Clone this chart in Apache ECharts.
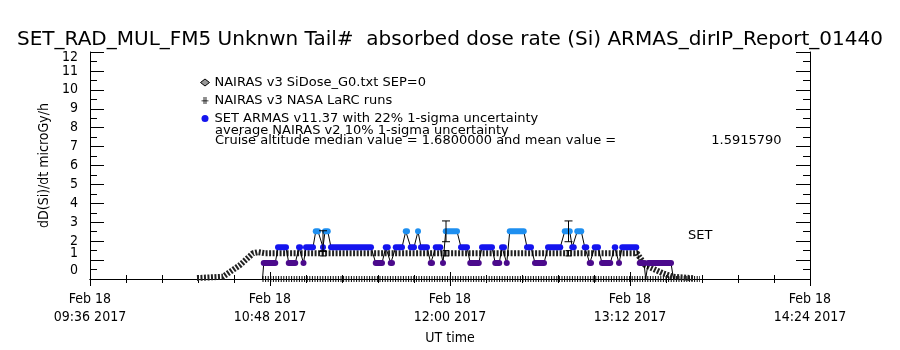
<!DOCTYPE html>
<html>
<head>
<meta charset="utf-8">
<script src="https://cdn.jsdelivr.net/npm/echarts@6/dist/echarts.min.js"></script>
<style>
  html, body { margin: 0; padding: 0; background: #fff; }
  #main { width: 900px; height: 350px; }
</style>
</head>
<body>
<div id="main"></div>
<script>
// 时间用当天的分钟数 (09:36 = 576)
var tickLabels = ['09:36', '10:48', '12:00', '13:12', '14:24']

// NAIRAS v3 SiDose_G0 曲线
var nairasTime = [618.8, 629.2, 636.0, 641.2, 643.2, 646.0, 794.8, 798.0, 805.2, 809.2, 817.2]
var nairasDose = [0.05, 0.12, 0.74, 1.36, 1.42, 1.36, 1.36, 0.74, 0.30, 0.12, 0.04]

// NASA LaRC runs (底部那一排)
var larcTime = [645.0, 820.0]
var larcDose = [0, 0]

// SET ARMAS 分段 (开始, 结束, 剂量率)
var armasStart = [645.0, 645.5, 651.2, 655.5, 659.6, 661.4, 662.4, 666.3, 669.2, 670.0, 672.4, 690.3, 694.3, 696.3, 698.3, 702.3,
  704.3, 707.2, 708.4, 712.3, 714.3, 717.2, 718.3, 724.4, 728.1, 732.8, 738.1, 740.8, 742.7, 743.9, 750.8, 754.0,
  759.2, 765.9, 768.9, 770.9, 773.9, 775.9, 777.9, 780.8, 785.9, 787.6, 788.9, 795.9, 798.3, 799.2, 809.4]
var armasEnd = [645.0, 650.1, 654.4, 658.1, 660.0, 661.4, 665.2, 667.2, 669.2, 671.1, 688.4, 692.8, 695.1, 696.8, 700.8, 702.8,
  705.6, 707.2, 710.8, 712.8, 716.1, 717.2, 722.8, 726.8, 731.5, 736.8, 739.7, 741.6, 742.7, 749.5, 752.4, 757.6,
  764.1, 767.9, 769.5, 772.5, 774.5, 776.4, 779.2, 784.1, 786.1, 787.6, 794.5, 797.6, 798.3, 808.4, 809.4]
var armasLevel = [0, 0.84, 1.68, 0.84, 1.68, 0.84, 1.68, 2.52, 1.68, 2.52, 1.68, 0.84, 1.68, 0.84, 1.68, 2.52,
  1.68, 2.52, 1.68, 0.84, 1.68, 0.84, 2.52, 1.68, 0.84, 1.68, 0.84, 1.68, 0.84, 2.52, 1.68, 0.84,
  1.68, 2.52, 1.68, 2.52, 1.68, 0.84, 1.68, 0.84, 1.68, 0.84, 1.68, 0.84, 0, 0.84, 0]

// 误差棒 (时间, 下限, 上限)
var armasErrTime = [669.2, 718.4, 767.4]
var armasErrLow = [1.45, 1.97, 1.97]
var armasErrHigh = [2.55, 3.07, 3.07]
var nairasErrTime = [669.2, 718.4, 767.4]
var nairasErrLow = [1.22, 1.22, 1.22]
var nairasErrHigh = [1.50, 1.50, 1.50]

var g0Name = 'NAIRAS v3 SiDose_G0.txt SEP=0'
var larcName = 'NAIRAS v3 NASA LaRC runs'
var armasName = 'SET ARMAS v11.37 with 22% 1-sigma uncertainty'

var font = 'DejaVu Sans'
var narrow = "'DejaVu Sans Condensed', 'Liberation Sans Narrow', 'DejaVu Sans'"

function zip(a, b) {
  var out = []
  for (var i = 0; i < a.length; i++) out.push([a[i], b[i]])
  return out
}

function levelColor(v) {
  if (v < 1.2) return '#4b0a8c'
  if (v < 2.1) return '#1414ee'
  return '#1e8ff0'
}

// 黑色连线：每段两端点
var armasLine = []
var armasSeg = []
for (var i = 0; i < armasStart.length; i++) {
  armasLine.push([armasStart[i], armasLevel[i]])
  if (armasEnd[i] !== armasStart[i]) armasLine.push([armasEnd[i], armasLevel[i]])
  if (armasLevel[i] > 0) armasSeg.push([armasStart[i], armasEnd[i], armasLevel[i]])
}

function errData(t, lo, hi) {
  var out = []
  for (var i = 0; i < t.length; i++) out.push([t[i], lo[i], hi[i]])
  return out
}

function errRender(cap) {
  return function (params, api) {
    var p1 = api.coord([api.value(0), api.value(1)])
    var p2 = api.coord([api.value(0), api.value(2)])
    var st = { stroke: '#000', lineWidth: 1 }
    return {
      type: 'group',
      children: [
        { type: 'line', shape: { x1: p1[0], y1: p1[1], x2: p2[0], y2: p2[1] }, style: st },
        { type: 'line', shape: { x1: p1[0] - cap, y1: p1[1], x2: p1[0] + cap, y2: p1[1] }, style: st },
        { type: 'line', shape: { x1: p2[0] - cap, y1: p2[1], x2: p2[0] + cap, y2: p2[1] }, style: st }
      ]
    }
  }
}

var myChart = echarts.init(document.getElementById('main'))

var option = {
  backgroundColor: '#fff',
  animation: false,
  title: {
    text: 'SET_RAD_MUL_FM5 Unknwn Tail#  absorbed dose rate (Si) ARMAS_dirIP_Report_01440',
    left: 'center',
    top: 25,
    textStyle: { fontFamily: font, fontSize: 20, fontWeight: 'normal', color: '#000' }
  },
  legend: {
    orient: 'vertical',
    left: 195,
    top: 71,
    itemWidth: 9,
    itemHeight: 7,
    itemGap: 5,
    selectedMode: false,
    textStyle: { fontFamily: font, fontSize: 13, color: '#000' },
    data: [
      { name: g0Name, icon: 'diamond', itemStyle: { color: '#999', borderColor: '#000', borderWidth: 1 } },
      { name: larcName, icon: 'path://M3,0h1.2v10h-1.2z M5.8,0h1.2v10h-1.2z M0,5h10v1.2h-10z', itemStyle: { color: '#000' } },
      { name: armasName, icon: 'circle', itemStyle: { color: '#1414ee' } }
    ]
  },
  grid: { left: 90, right: 90, top: 52, bottom: 71 },
  xAxis: [{
    type: 'value',
    min: 576,
    max: 864,
    interval: 72,
    name: 'UT time',
    nameLocation: 'middle',
    nameGap: 52,
    nameTextStyle: { fontFamily: narrow, fontSize: 14, color: '#000' },
    axisLine: { lineStyle: { color: '#000' } },
    axisTick: { inside: true, length: 7, lineStyle: { color: '#000' } },
    minorTick: { show: true, splitNumber: 5, length: 4, lineStyle: { color: '#000' } },
    splitLine: { show: false },
    axisLabel: {
      margin: 11,
      fontFamily: narrow,
      fontSize: 14,
      lineHeight: 18,
      color: '#000',
      formatter: function (v) {
        return 'Feb 18\n' + tickLabels[Math.round((v - 576) / 72)] + ' 2017'
      }
    }
  }, {
    type: 'value',
    position: 'top',
    min: 576,
    max: 864,
    interval: 72,
    axisLine: { lineStyle: { color: '#000' } },
    axisTick: { inside: true, length: 7, lineStyle: { color: '#000' } },
    minorTick: { show: true, splitNumber: 5, length: 4, lineStyle: { color: '#000' } },
    splitLine: { show: false },
    axisLabel: { show: false }
  }],
  yAxis: [{
    type: 'value',
    min: 0,
    max: 12,
    interval: 1,
    name: 'dD(Si)/dt microGy/h',
    nameLocation: 'middle',
    nameGap: 38,
    nameTextStyle: { fontFamily: narrow, fontSize: 14, color: '#000' },
    axisLine: { show: true, lineStyle: { color: '#000' } },
    axisTick: { inside: true, length: 14, lineStyle: { color: '#000' } },
    minorTick: { show: true, splitNumber: 2, length: 7, lineStyle: { color: '#000' } },
    splitLine: { show: false },
    axisLabel: {
      margin: 12,
      fontFamily: narrow,
      fontSize: 14,
      color: '#000',
      formatter: function (v) {
        if (v === 0) return '{a|0}'
        if (v === 1) return '{b|1}'
        if (v === 12) return '{c|12}'
        return v
      },
      rich: {
        a: { fontFamily: narrow, fontSize: 14, color: '#000', padding: [0, 0, 18, 0] },
        b: { fontFamily: narrow, fontSize: 14, color: '#000', padding: [0, 0, 14, 0] },
        c: { fontFamily: narrow, fontSize: 14, color: '#000', padding: [10, 0, 0, 0] }
      }
    }
  }, {
    type: 'value',
    position: 'right',
    min: 0,
    max: 12,
    interval: 1,
    axisLine: { show: true, lineStyle: { color: '#000' } },
    axisTick: { inside: true, length: 14, lineStyle: { color: '#000' } },
    minorTick: { show: true, splitNumber: 2, length: 7, lineStyle: { color: '#000' } },
    splitLine: { show: false },
    axisLabel: { show: false }
  }],
  graphic: [
    {
      type: 'text', left: 215, top: 124,
      style: { text: 'average NAIRAS v2 10% 1-sigma uncertainty', font: '13px ' + font, fill: '#000' }
    },
    {
      type: 'text', left: 215, top: 134,
      style: { text: 'Cruise altitude median value = 1.6800000 and mean value =                       1.5915790', font: '13px ' + font, fill: '#000' }
    },
    {
      type: 'text', left: 688, top: 229,
      style: { text: 'SET', font: '13px ' + font, fill: '#000' }
    }
  ],
  series: [
    {
      name: larcName,
      type: 'line',
      data: zip(larcTime, larcDose),
      showSymbol: false,
      itemStyle: { color: '#000' },
      lineStyle: { color: '#000', width: 6, type: [1, 1.6] },
      z: 1
    },
    {
      name: g0Name,
      type: 'line',
      data: zip(nairasTime, nairasDose),
      showSymbol: false,
      itemStyle: { color: '#999' },
      lineStyle: { color: '#222', width: 6, type: [2, 1.5] },
      z: 2
    },
    {
      name: 'armas-line',
      type: 'line',
      data: armasLine,
      showSymbol: false,
      lineStyle: { color: '#000', width: 1 },
      z: 3
    },
    {
      name: armasName,
      type: 'custom',
      data: armasSeg,
      itemStyle: { color: '#1414ee' },
      renderItem: function (params, api) {
        var p1 = api.coord([api.value(0), api.value(2)])
        var p2 = api.coord([api.value(1), api.value(2)])
        return {
          type: 'rect',
          shape: { x: p1[0] - 3, y: p1[1] - 3, width: p2[0] - p1[0] + 6, height: 6, r: 3 },
          style: { fill: levelColor(api.value(2)) }
        }
      },
      z: 4
    },
    {
      name: 'armas-err',
      type: 'custom',
      data: errData(armasErrTime, armasErrLow, armasErrHigh),
      renderItem: errRender(4),
      z: 5
    },
    {
      name: 'nairas-err',
      type: 'custom',
      data: errData(nairasErrTime, nairasErrLow, nairasErrHigh),
      renderItem: errRender(3),
      z: 5
    }
  ]
}

myChart.setOption(option)
</script>
</body>
</html>
